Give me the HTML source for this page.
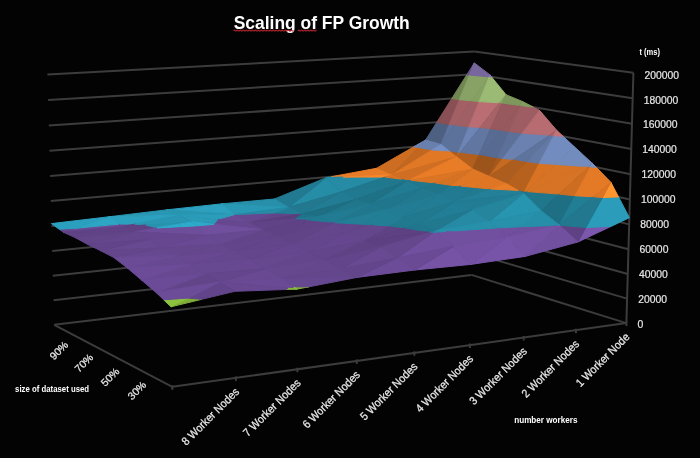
<!DOCTYPE html>
<html><head><meta charset="utf-8"><style>html,body{margin:0;padding:0;background:#030303;}svg{display:block;filter:blur(0.35px)}</style></head>
<body><svg width="700" height="458" viewBox="0 0 700 458">
<rect width="700" height="458" fill="#030303"/>
<g stroke="#3c3c3c" stroke-width="2" fill="none"><line x1="54.2" y1="324.8" x2="471.5" y2="274.9"/><line x1="471.5" y1="274.9" x2="626.4" y2="323.1"/><line x1="53.5" y1="300.3" x2="471.8" y2="253.0"/><line x1="471.8" y1="253.0" x2="627.1" y2="298.6"/><line x1="52.8" y1="275.7" x2="472.1" y2="231.0"/><line x1="472.1" y1="231.0" x2="627.8" y2="274.0"/><line x1="52.2" y1="251.0" x2="472.4" y2="208.9"/><line x1="472.4" y1="208.9" x2="628.5" y2="249.2"/><line x1="51.5" y1="226.1" x2="472.7" y2="186.7"/><line x1="472.7" y1="186.7" x2="629.2" y2="224.4"/><line x1="50.8" y1="201.1" x2="473.0" y2="164.4"/><line x1="473.0" y1="164.4" x2="629.9" y2="199.4"/><line x1="50.1" y1="176.1" x2="473.2" y2="142.0"/><line x1="473.2" y1="142.0" x2="630.6" y2="174.3"/><line x1="49.5" y1="150.8" x2="473.5" y2="119.6"/><line x1="473.5" y1="119.6" x2="631.3" y2="149.1"/><line x1="48.8" y1="125.5" x2="473.8" y2="97.0"/><line x1="473.8" y1="97.0" x2="632.0" y2="123.8"/><line x1="48.1" y1="100.1" x2="474.1" y2="74.3"/><line x1="474.1" y1="74.3" x2="632.7" y2="98.3"/><line x1="47.4" y1="74.5" x2="474.4" y2="51.6"/><line x1="474.4" y1="51.6" x2="633.4" y2="72.7"/><line x1="626.4" y1="323.1" x2="633.4" y2="72.7"/><line x1="54.2" y1="324.8" x2="172.3" y2="386.8"/><line x1="172.3" y1="386.8" x2="626.4" y2="323.1"/><line x1="172.3" y1="385.3" x2="172.3" y2="389.8"/><line x1="235.9" y1="376.4" x2="235.9" y2="380.9"/><line x1="297.4" y1="367.7" x2="297.4" y2="372.2"/><line x1="356.8" y1="359.4" x2="356.8" y2="363.9"/><line x1="414.3" y1="351.3" x2="414.3" y2="355.8"/><line x1="469.9" y1="343.5" x2="469.9" y2="348.0"/><line x1="523.7" y1="336.0" x2="523.7" y2="340.5"/><line x1="575.9" y1="328.7" x2="575.9" y2="333.2"/><line x1="626.4" y1="321.6" x2="626.4" y2="326.1"/></g>
<polygon points="441.0,144.5 449.1,124.5 436.8,122.3 425.6,140.0" fill="#4e6082" stroke="#4e6082" stroke-width="1.0" stroke-linejoin="round"/><polygon points="449.1,124.5 459.3,99.7 451.8,98.5 436.8,122.3" fill="#885054" stroke="#885054" stroke-width="1.0" stroke-linejoin="round"/><polygon points="459.3,99.7 469.3,75.1 466.8,74.8 451.8,98.5" fill="#718753" stroke="#718753" stroke-width="1.0" stroke-linejoin="round"/><polygon points="469.3,75.1 474.3,62.9 466.8,74.8" fill="#655784" stroke="#655784" stroke-width="1.0" stroke-linejoin="round"/><polygon points="441.0,144.5 454.6,125.1 449.1,124.5" fill="#5e739d" stroke="#5e739d" stroke-width="1.0" stroke-linejoin="round"/><polygon points="454.6,125.1 471.7,100.9 459.3,99.7 449.1,124.5" fill="#a26065" stroke="#a26065" stroke-width="1.0" stroke-linejoin="round"/><polygon points="471.7,100.9 488.7,76.8 469.3,75.1 459.3,99.7" fill="#87a264" stroke="#87a264" stroke-width="1.0" stroke-linejoin="round"/><polygon points="488.7,76.8 490.0,74.9 474.3,62.9 469.3,75.1" fill="#78679d" stroke="#78679d" stroke-width="1.0" stroke-linejoin="round"/><polygon points="391.4,175.0 418.3,147.4 413.7,146.8 376.5,168.3" fill="#cc6d22" stroke="#cc6d22" stroke-width="1.0" stroke-linejoin="round"/><polygon points="418.3,147.4 425.6,140.0 413.7,146.8" fill="#6e86b6" stroke="#6e86b6" stroke-width="1.0" stroke-linejoin="round"/><polygon points="391.4,175.0 432.1,149.9 418.3,147.4" fill="#c26720" stroke="#c26720" stroke-width="1.0" stroke-linejoin="round"/><polygon points="432.1,149.9 441.0,144.5 425.6,140.0 418.3,147.4" fill="#6980ae" stroke="#6980ae" stroke-width="1.0" stroke-linejoin="round"/><polygon points="456.6,156.8 458.5,152.2 449.2,151.0" fill="#aa5b1c" stroke="#aa5b1c" stroke-width="1.0" stroke-linejoin="round"/><polygon points="458.5,152.2 468.9,126.8 454.6,125.1 441.0,144.5 449.2,151.0" fill="#5d729b" stroke="#5d729b" stroke-width="1.0" stroke-linejoin="round"/><polygon points="468.9,126.8 479.1,101.6 471.7,100.9 454.6,125.1" fill="#a05f64" stroke="#a05f64" stroke-width="1.0" stroke-linejoin="round"/><polygon points="479.1,101.6 489.2,76.8 488.7,76.8 471.7,100.9" fill="#85a062" stroke="#85a062" stroke-width="1.0" stroke-linejoin="round"/><polygon points="489.2,76.8 490.0,74.9 488.7,76.8" fill="#76669b" stroke="#76669b" stroke-width="1.0" stroke-linejoin="round"/><polygon points="456.6,156.8 460.2,152.3 458.5,152.2" fill="#cb6d22" stroke="#cb6d22" stroke-width="1.0" stroke-linejoin="round"/><polygon points="460.2,152.3 479.9,127.5 468.9,126.8 458.5,152.2" fill="#6d85b5" stroke="#6d85b5" stroke-width="1.0" stroke-linejoin="round"/><polygon points="479.9,127.5 499.5,102.8 479.1,101.6 468.9,126.8" fill="#ba6e74" stroke="#ba6e74" stroke-width="1.0" stroke-linejoin="round"/><polygon points="499.5,102.8 506.0,94.7 491.6,77.0 489.2,76.8 479.1,101.6" fill="#9bba73" stroke="#9bba73" stroke-width="1.0" stroke-linejoin="round"/><polygon points="491.6,77.0 490.0,74.9 489.2,76.8" fill="#8976b4" stroke="#8976b4" stroke-width="1.0" stroke-linejoin="round"/><polygon points="456.6,156.8 449.2,151.0 432.1,149.9 391.4,175.0" fill="#e17825" stroke="#e17825" stroke-width="1.0" stroke-linejoin="round"/><polygon points="449.2,151.0 441.0,144.5 432.1,149.9" fill="#7791c6" stroke="#7791c6" stroke-width="1.0" stroke-linejoin="round"/><polygon points="331.5,176.7 326.1,177.7 343.2,177.0" fill="#237f97" stroke="#237f97" stroke-width="1.0" stroke-linejoin="round"/><polygon points="391.4,175.0 376.5,168.3 331.5,176.7 343.2,177.0" fill="#e77b27" stroke="#e77b27" stroke-width="1.0" stroke-linejoin="round"/><polygon points="472.7,169.0 479.1,154.6 460.2,152.3 456.6,156.8" fill="#b25f1e" stroke="#b25f1e" stroke-width="1.0" stroke-linejoin="round"/><polygon points="479.1,154.6 490.7,128.7 479.9,127.5 460.2,152.3" fill="#6176a1" stroke="#6176a1" stroke-width="1.0" stroke-linejoin="round"/><polygon points="490.7,128.7 502.2,103.1 499.5,102.8 479.9,127.5" fill="#a66267" stroke="#a66267" stroke-width="1.0" stroke-linejoin="round"/><polygon points="502.2,103.1 506.0,94.7 499.5,102.8" fill="#8aa666" stroke="#8aa666" stroke-width="1.0" stroke-linejoin="round"/><polygon points="472.7,169.0 482.8,155.2 479.1,154.6" fill="#9f551a" stroke="#9f551a" stroke-width="1.0" stroke-linejoin="round"/><polygon points="482.8,155.2 501.3,130.3 490.7,128.7 479.1,154.6" fill="#586b92" stroke="#586b92" stroke-width="1.0" stroke-linejoin="round"/><polygon points="501.3,130.3 519.6,105.4 502.2,103.1 490.7,128.7" fill="#97595e" stroke="#97595e" stroke-width="1.0" stroke-linejoin="round"/><polygon points="519.6,105.4 522.5,101.5 506.0,94.7 502.2,103.1" fill="#7e975d" stroke="#7e975d" stroke-width="1.0" stroke-linejoin="round"/><polygon points="406.7,181.1 408.6,180.2 401.6,179.1" fill="#1f7186" stroke="#1f7186" stroke-width="1.0" stroke-linejoin="round"/><polygon points="408.6,180.2 456.6,156.8 391.4,175.0 401.6,179.1" fill="#d06f23" stroke="#d06f23" stroke-width="1.0" stroke-linejoin="round"/><polygon points="340.6,192.1 385.2,177.1 343.2,177.0 326.1,177.7" fill="#268ba5" stroke="#268ba5" stroke-width="1.0" stroke-linejoin="round"/><polygon points="385.2,177.1 391.4,175.0 343.2,177.0" fill="#fa862a" stroke="#fa862a" stroke-width="1.0" stroke-linejoin="round"/><polygon points="408.6,180.2 406.7,181.1 411.0,180.3" fill="#238199" stroke="#238199" stroke-width="1.0" stroke-linejoin="round"/><polygon points="472.7,169.0 456.6,156.8 408.6,180.2 411.0,180.3" fill="#e97c27" stroke="#e97c27" stroke-width="1.0" stroke-linejoin="round"/><polygon points="406.7,181.1 401.6,179.1 385.2,177.1 340.6,192.1" fill="#20788e" stroke="#20788e" stroke-width="1.0" stroke-linejoin="round"/><polygon points="401.6,179.1 391.4,175.0 385.2,177.1" fill="#da7424" stroke="#da7424" stroke-width="1.0" stroke-linejoin="round"/><polygon points="489.2,176.3 497.5,157.8 482.8,155.2 472.7,169.0" fill="#9d541a" stroke="#9d541a" stroke-width="1.0" stroke-linejoin="round"/><polygon points="497.5,157.8 509.2,131.5 501.3,130.3 482.8,155.2" fill="#576a91" stroke="#576a91" stroke-width="1.0" stroke-linejoin="round"/><polygon points="509.2,131.5 520.7,105.6 519.6,105.4 501.3,130.3" fill="#96595d" stroke="#96595d" stroke-width="1.0" stroke-linejoin="round"/><polygon points="520.7,105.6 522.5,101.5 519.6,105.4" fill="#7d965c" stroke="#7d965c" stroke-width="1.0" stroke-linejoin="round"/><polygon points="288.4,207.4 340.6,192.1 326.1,177.7" fill="#268da7" stroke="#268da7" stroke-width="1.0" stroke-linejoin="round"/><polygon points="288.4,207.4 326.1,177.7 274.4,199.0" fill="#217a91" stroke="#217a91" stroke-width="1.0" stroke-linejoin="round"/><polygon points="489.2,176.3 502.7,158.5 497.5,157.8" fill="#a7591c" stroke="#a7591c" stroke-width="1.0" stroke-linejoin="round"/><polygon points="502.7,158.5 522.1,133.2 509.2,131.5 497.5,157.8" fill="#5c7099" stroke="#5c7099" stroke-width="1.0" stroke-linejoin="round"/><polygon points="522.1,133.2 539.5,110.3 533.1,107.0 520.7,105.6 509.2,131.5" fill="#9e5d62" stroke="#9e5d62" stroke-width="1.0" stroke-linejoin="round"/><polygon points="533.1,107.0 522.5,101.5 520.7,105.6" fill="#839e61" stroke="#839e61" stroke-width="1.0" stroke-linejoin="round"/><polygon points="422.3,188.0 435.4,183.0 411.0,180.3 406.7,181.1" fill="#21788e" stroke="#21788e" stroke-width="1.0" stroke-linejoin="round"/><polygon points="435.4,183.0 472.7,169.0 411.0,180.3" fill="#db7524" stroke="#db7524" stroke-width="1.0" stroke-linejoin="round"/><polygon points="355.4,199.5 406.7,181.1 340.6,192.1" fill="#217990" stroke="#217990" stroke-width="1.0" stroke-linejoin="round"/><polygon points="502.7,158.5 489.2,176.3 513.9,159.4" fill="#c66a21" stroke="#c66a21" stroke-width="1.0" stroke-linejoin="round"/><polygon points="522.1,133.2 502.7,158.5 513.9,159.4 549.5,135.2" fill="#6b82b1" stroke="#6b82b1" stroke-width="1.0" stroke-linejoin="round"/><polygon points="556.7,130.3 539.5,110.3 522.1,133.2 549.5,135.2" fill="#b66c71" stroke="#b66c71" stroke-width="1.0" stroke-linejoin="round"/><polygon points="288.4,207.4 274.4,199.0 221.1,203.9" fill="#278faa" stroke="#278faa" stroke-width="1.0" stroke-linejoin="round"/><polygon points="438.4,194.0 461.0,186.1 450.4,185.2" fill="#217b92" stroke="#217b92" stroke-width="1.0" stroke-linejoin="round"/><polygon points="461.0,186.1 489.2,176.3 472.7,169.0 450.4,185.2" fill="#e07725" stroke="#e07725" stroke-width="1.0" stroke-linejoin="round"/><polygon points="438.4,194.0 450.4,185.2 435.4,183.0 422.3,188.0" fill="#20758b" stroke="#20758b" stroke-width="1.0" stroke-linejoin="round"/><polygon points="450.4,185.2 472.7,169.0 435.4,183.0" fill="#d67224" stroke="#d67224" stroke-width="1.0" stroke-linejoin="round"/><polygon points="370.6,203.9 422.3,188.0 406.7,181.1" fill="#217b92" stroke="#217b92" stroke-width="1.0" stroke-linejoin="round"/><polygon points="370.6,203.9 406.7,181.1 355.4,199.5" fill="#1f7186" stroke="#1f7186" stroke-width="1.0" stroke-linejoin="round"/><polygon points="302.7,213.8 355.4,199.5 340.6,192.1" fill="#227d94" stroke="#227d94" stroke-width="1.0" stroke-linejoin="round"/><polygon points="302.7,213.8 340.6,192.1 288.4,207.4" fill="#21788f" stroke="#21788f" stroke-width="1.0" stroke-linejoin="round"/><polygon points="506.1,183.5 527.0,161.6 513.9,159.4 489.2,176.3" fill="#ad5d1d" stroke="#ad5d1d" stroke-width="1.0" stroke-linejoin="round"/><polygon points="527.0,161.6 551.7,135.5 549.5,135.2 513.9,159.4" fill="#5f749d" stroke="#5f749d" stroke-width="1.0" stroke-linejoin="round"/><polygon points="551.7,135.5 556.7,130.3 549.5,135.2" fill="#a36065" stroke="#a36065" stroke-width="1.0" stroke-linejoin="round"/><polygon points="234.6,214.6 234.8,214.6 234.6,214.6" fill="#6c4c97" stroke="#6c4c97" stroke-width="1.0" stroke-linejoin="round"/><polygon points="234.8,214.6 288.4,207.4 221.1,203.9 234.6,214.6" fill="#2998b4" stroke="#2998b4" stroke-width="1.0" stroke-linejoin="round"/><polygon points="454.9,201.7 490.7,189.0 474.3,187.4" fill="#217a90" stroke="#217a90" stroke-width="1.0" stroke-linejoin="round"/><polygon points="490.7,189.0 506.1,183.5 489.2,176.3 474.3,187.4" fill="#de7625" stroke="#de7625" stroke-width="1.0" stroke-linejoin="round"/><polygon points="454.9,201.7 474.3,187.4 461.0,186.1 438.4,194.0" fill="#217a91" stroke="#217a91" stroke-width="1.0" stroke-linejoin="round"/><polygon points="474.3,187.4 489.2,176.3 461.0,186.1" fill="#df7725" stroke="#df7725" stroke-width="1.0" stroke-linejoin="round"/><polygon points="234.6,214.6 234.6,214.6 234.6,214.6" fill="#6c4c98" stroke="#6c4c98" stroke-width="1.0" stroke-linejoin="round"/><polygon points="234.6,214.6 221.1,203.9 166.2,209.9 234.6,214.6" fill="#2ca0be" stroke="#2ca0be" stroke-width="1.0" stroke-linejoin="round"/><polygon points="523.5,193.3 524.5,191.3 518.3,190.4" fill="#1a6174" stroke="#1a6174" stroke-width="1.0" stroke-linejoin="round"/><polygon points="524.5,191.3 539.3,163.3 527.0,161.6 506.1,183.5 518.3,190.4" fill="#b6611e" stroke="#b6611e" stroke-width="1.0" stroke-linejoin="round"/><polygon points="539.3,163.3 553.8,135.7 551.7,135.5 527.0,161.6" fill="#6379a4" stroke="#6379a4" stroke-width="1.0" stroke-linejoin="round"/><polygon points="553.8,135.7 556.7,130.3 551.7,135.5" fill="#aa6469" stroke="#aa6469" stroke-width="1.0" stroke-linejoin="round"/><polygon points="386.3,209.5 438.4,194.0 422.3,188.0" fill="#21788f" stroke="#21788f" stroke-width="1.0" stroke-linejoin="round"/><polygon points="386.3,209.5 422.3,188.0 370.6,203.9" fill="#20768c" stroke="#20768c" stroke-width="1.0" stroke-linejoin="round"/><polygon points="523.5,193.3 525.6,191.4 524.5,191.3" fill="#20768c" stroke="#20768c" stroke-width="1.0" stroke-linejoin="round"/><polygon points="525.6,191.4 555.1,164.4 539.3,163.3 524.5,191.3" fill="#d87324" stroke="#d87324" stroke-width="1.0" stroke-linejoin="round"/><polygon points="555.1,164.4 574.3,146.7 563.1,136.3 553.8,135.7 539.3,163.3" fill="#738cbf" stroke="#738cbf" stroke-width="1.0" stroke-linejoin="round"/><polygon points="563.1,136.3 556.7,130.3 553.8,135.7" fill="#c4747a" stroke="#c4747a" stroke-width="1.0" stroke-linejoin="round"/><polygon points="317.5,216.6 370.6,203.9 355.4,199.5" fill="#20768b" stroke="#20768b" stroke-width="1.0" stroke-linejoin="round"/><polygon points="317.5,216.6 355.4,199.5 302.7,213.8" fill="#1e6f83" stroke="#1e6f83" stroke-width="1.0" stroke-linejoin="round"/><polygon points="248.5,222.8 302.2,213.9 274.3,212.9" fill="#624589" stroke="#624589" stroke-width="1.0" stroke-linejoin="round"/><polygon points="302.2,213.9 302.7,213.8 288.4,207.4 274.3,212.9" fill="#237f97" stroke="#237f97" stroke-width="1.0" stroke-linejoin="round"/><polygon points="248.5,222.8 274.3,212.9 234.8,214.6 234.6,214.6" fill="#664890" stroke="#664890" stroke-width="1.0" stroke-linejoin="round"/><polygon points="274.3,212.9 288.4,207.4 234.8,214.6" fill="#268ba5" stroke="#268ba5" stroke-width="1.0" stroke-linejoin="round"/><polygon points="523.5,193.3 518.3,190.4 490.7,189.0 454.9,201.7" fill="#238098" stroke="#238098" stroke-width="1.0" stroke-linejoin="round"/><polygon points="518.3,190.4 506.1,183.5 490.7,189.0" fill="#e87c27" stroke="#e87c27" stroke-width="1.0" stroke-linejoin="round"/><polygon points="525.6,191.4 523.5,193.3 527.6,191.6" fill="#20768c" stroke="#20768c" stroke-width="1.0" stroke-linejoin="round"/><polygon points="555.1,164.4 525.6,191.4 527.6,191.6 585.1,166.5" fill="#d77324" stroke="#d77324" stroke-width="1.0" stroke-linejoin="round"/><polygon points="592.4,163.4 574.3,146.7 555.1,164.4 585.1,166.5" fill="#738cbe" stroke="#738cbe" stroke-width="1.0" stroke-linejoin="round"/><polygon points="234.6,214.6 234.6,214.6 234.6,214.6" fill="#63468b" stroke="#63468b" stroke-width="1.0" stroke-linejoin="round"/><polygon points="179.2,215.2 234.6,214.6 234.6,214.6 166.2,209.9" fill="#2996b1" stroke="#2996b1" stroke-width="1.0" stroke-linejoin="round"/><polygon points="302.2,213.9 248.5,222.8 295.8,218.6" fill="#593f7d" stroke="#593f7d" stroke-width="1.0" stroke-linejoin="round"/><polygon points="317.5,216.6 302.7,213.8 302.2,213.9 295.8,218.6" fill="#1f7388" stroke="#1f7388" stroke-width="1.0" stroke-linejoin="round"/><polygon points="248.5,222.8 234.6,214.6 234.6,214.6 217.7,219.4" fill="#694a94" stroke="#694a94" stroke-width="1.0" stroke-linejoin="round"/><polygon points="234.6,214.6 179.2,215.2 217.7,219.4" fill="#2b9dba" stroke="#2b9dba" stroke-width="1.0" stroke-linejoin="round"/><polygon points="402.3,217.4 454.9,201.7 438.4,194.0" fill="#227d94" stroke="#227d94" stroke-width="1.0" stroke-linejoin="round"/><polygon points="402.3,217.4 438.4,194.0 386.3,209.5" fill="#227c93" stroke="#227c93" stroke-width="1.0" stroke-linejoin="round"/><polygon points="332.6,223.3 334.9,222.7 334.0,222.5" fill="#5d4283" stroke="#5d4283" stroke-width="1.0" stroke-linejoin="round"/><polygon points="334.9,222.7 386.3,209.5 370.6,203.9 334.0,222.5" fill="#21788e" stroke="#21788e" stroke-width="1.0" stroke-linejoin="round"/><polygon points="332.6,223.3 334.0,222.5 330.0,222.1" fill="#604386" stroke="#604386" stroke-width="1.0" stroke-linejoin="round"/><polygon points="334.0,222.5 370.6,203.9 317.5,216.6 330.0,222.1" fill="#217b92" stroke="#217b92" stroke-width="1.0" stroke-linejoin="round"/><polygon points="179.2,215.2 166.2,209.9 109.7,216.7" fill="#2997b3" stroke="#2997b3" stroke-width="1.0" stroke-linejoin="round"/><polygon points="541.1,210.7 559.1,194.1 527.6,191.6 523.5,193.3" fill="#20768b" stroke="#20768b" stroke-width="1.0" stroke-linejoin="round"/><polygon points="559.1,194.1 588.7,166.8 585.1,166.5 527.6,191.6" fill="#d77324" stroke="#d77324" stroke-width="1.0" stroke-linejoin="round"/><polygon points="588.7,166.8 592.4,163.4 585.1,166.5" fill="#738cbe" stroke="#738cbe" stroke-width="1.0" stroke-linejoin="round"/><polygon points="471.9,209.8 523.5,193.3 454.9,201.7" fill="#227c93" stroke="#227c93" stroke-width="1.0" stroke-linejoin="round"/><polygon points="262.8,229.7 305.3,219.5 295.8,218.6 248.5,222.8" fill="#604387" stroke="#604387" stroke-width="1.0" stroke-linejoin="round"/><polygon points="305.3,219.5 317.5,216.6 295.8,218.6" fill="#217b92" stroke="#217b92" stroke-width="1.0" stroke-linejoin="round"/><polygon points="215.6,222.3 248.5,222.8 217.7,219.4" fill="#664890" stroke="#664890" stroke-width="1.0" stroke-linejoin="round"/><polygon points="192.5,221.9 215.6,222.3 217.7,219.4 179.2,215.2" fill="#2a9bb8" stroke="#2a9bb8" stroke-width="1.0" stroke-linejoin="round"/><polygon points="122.2,226.6 134.8,224.1 119.0,224.1" fill="#674891" stroke="#674891" stroke-width="1.0" stroke-linejoin="round"/><polygon points="134.8,224.1 179.2,215.2 109.7,216.7 119.0,224.1" fill="#2ca1bf" stroke="#2ca1bf" stroke-width="1.0" stroke-linejoin="round"/><polygon points="559.3,225.0 575.0,195.8 559.1,194.1 541.1,210.7" fill="#1e6f84" stroke="#1e6f84" stroke-width="1.0" stroke-linejoin="round"/><polygon points="575.0,195.8 590.5,166.9 588.7,166.8 559.1,194.1" fill="#cc6d22" stroke="#cc6d22" stroke-width="1.0" stroke-linejoin="round"/><polygon points="590.5,166.9 592.4,163.4 588.7,166.8" fill="#6d86b6" stroke="#6d86b6" stroke-width="1.0" stroke-linejoin="round"/><polygon points="559.3,225.0 593.3,196.8 575.0,195.8" fill="#227e95" stroke="#227e95" stroke-width="1.0" stroke-linejoin="round"/><polygon points="593.3,196.8 610.9,182.3 596.2,167.2 590.5,166.9 575.0,195.8" fill="#e47a26" stroke="#e47a26" stroke-width="1.0" stroke-linejoin="round"/><polygon points="596.2,167.2 592.4,163.4 590.5,166.9" fill="#7993c8" stroke="#7993c8" stroke-width="1.0" stroke-linejoin="round"/><polygon points="489.3,221.5 541.1,210.7 523.5,193.3" fill="#2895b0" stroke="#2895b0" stroke-width="1.0" stroke-linejoin="round"/><polygon points="489.3,221.5 523.5,193.3 471.9,209.8" fill="#24859d" stroke="#24859d" stroke-width="1.0" stroke-linejoin="round"/><polygon points="262.8,229.7 248.5,222.8 215.6,222.3 213.8,224.3" fill="#674890" stroke="#674890" stroke-width="1.0" stroke-linejoin="round"/><polygon points="215.6,222.3 192.5,221.9 213.8,224.3" fill="#2a9ab7" stroke="#2a9ab7" stroke-width="1.0" stroke-linejoin="round"/><polygon points="418.8,224.2 471.9,209.8 454.9,201.7" fill="#227e96" stroke="#227e96" stroke-width="1.0" stroke-linejoin="round"/><polygon points="418.8,224.2 454.9,201.7 402.3,217.4" fill="#21798f" stroke="#21798f" stroke-width="1.0" stroke-linejoin="round"/><polygon points="348.2,231.8 373.6,225.0 361.2,224.2" fill="#624589" stroke="#624589" stroke-width="1.0" stroke-linejoin="round"/><polygon points="373.6,225.0 402.3,217.4 386.3,209.5 361.2,224.2" fill="#227e95" stroke="#227e95" stroke-width="1.0" stroke-linejoin="round"/><polygon points="348.2,231.8 361.2,224.2 334.9,222.7 332.6,223.3" fill="#63458b" stroke="#63458b" stroke-width="1.0" stroke-linejoin="round"/><polygon points="361.2,224.2 386.3,209.5 334.9,222.7" fill="#227f96" stroke="#227f96" stroke-width="1.0" stroke-linejoin="round"/><polygon points="134.8,224.1 122.2,226.6 145.9,225.0" fill="#614488" stroke="#614488" stroke-width="1.0" stroke-linejoin="round"/><polygon points="192.5,221.9 179.2,215.2 134.8,224.1 145.9,225.0" fill="#2997b3" stroke="#2997b3" stroke-width="1.0" stroke-linejoin="round"/><polygon points="277.4,236.2 332.6,223.3 330.0,222.1 310.2,220.1" fill="#604387" stroke="#604387" stroke-width="1.0" stroke-linejoin="round"/><polygon points="330.0,222.1 317.5,216.6 310.2,220.1" fill="#217b92" stroke="#217b92" stroke-width="1.0" stroke-linejoin="round"/><polygon points="277.4,236.2 310.2,220.1 305.3,219.5 262.8,229.7" fill="#5f4285" stroke="#5f4285" stroke-width="1.0" stroke-linejoin="round"/><polygon points="310.2,220.1 317.5,216.6 305.3,219.5" fill="#217a90" stroke="#217a90" stroke-width="1.0" stroke-linejoin="round"/><polygon points="63.3,232.2 122.2,226.6 119.0,224.1 74.9,228.3" fill="#6a4b95" stroke="#6a4b95" stroke-width="1.0" stroke-linejoin="round"/><polygon points="119.0,224.1 109.7,216.7 74.9,228.3" fill="#2da6c5" stroke="#2da6c5" stroke-width="1.0" stroke-linejoin="round"/><polygon points="63.3,232.2 74.9,228.3 59.2,229.2" fill="#674890" stroke="#674890" stroke-width="1.0" stroke-linejoin="round"/><polygon points="74.9,228.3 109.7,216.7 51.4,223.6 59.2,229.2" fill="#2ba0be" stroke="#2ba0be" stroke-width="1.0" stroke-linejoin="round"/><polygon points="206.3,235.3 262.8,229.7 213.8,224.3 196.7,225.9" fill="#704f9e" stroke="#704f9e" stroke-width="1.0" stroke-linejoin="round"/><polygon points="213.8,224.3 192.5,221.9 196.7,225.9" fill="#2eaac9" stroke="#2eaac9" stroke-width="1.0" stroke-linejoin="round"/><polygon points="577.9,242.0 611.0,226.4 585.9,227.5" fill="#7b57ad" stroke="#7b57ad" stroke-width="1.0" stroke-linejoin="round"/><polygon points="611.0,226.4 629.4,217.7 618.5,196.9 602.5,197.5 585.9,227.5" fill="#2b9dbb" stroke="#2b9dbb" stroke-width="1.0" stroke-linejoin="round"/><polygon points="618.5,196.9 610.9,182.3 602.5,197.5" fill="#ff952f" stroke="#ff952f" stroke-width="1.0" stroke-linejoin="round"/><polygon points="577.9,242.0 585.9,227.5 559.7,225.3" fill="#5e4283" stroke="#5e4283" stroke-width="1.0" stroke-linejoin="round"/><polygon points="585.9,227.5 602.5,197.5 593.3,196.8 559.3,225.0 559.7,225.3" fill="#21788f" stroke="#21788f" stroke-width="1.0" stroke-linejoin="round"/><polygon points="602.5,197.5 610.9,182.3 593.3,196.8" fill="#db7525" stroke="#db7525" stroke-width="1.0" stroke-linejoin="round"/><polygon points="134.9,231.7 157.0,227.9 145.9,225.0 122.2,226.6" fill="#5e4283" stroke="#5e4283" stroke-width="1.0" stroke-linejoin="round"/><polygon points="157.0,227.9 192.5,221.9 145.9,225.0" fill="#2893ae" stroke="#2893ae" stroke-width="1.0" stroke-linejoin="round"/><polygon points="507.0,237.0 557.5,225.4 520.3,226.8" fill="#6f4e9c" stroke="#6f4e9c" stroke-width="1.0" stroke-linejoin="round"/><polygon points="557.5,225.4 559.3,225.0 541.1,210.7 520.3,226.8" fill="#268ea8" stroke="#268ea8" stroke-width="1.0" stroke-linejoin="round"/><polygon points="507.0,237.0 520.3,226.8 496.7,228.0" fill="#714f9e" stroke="#714f9e" stroke-width="1.0" stroke-linejoin="round"/><polygon points="520.3,226.8 541.1,210.7 489.3,221.5 496.7,228.0" fill="#2790ab" stroke="#2790ab" stroke-width="1.0" stroke-linejoin="round"/><polygon points="435.8,230.6 489.3,221.5 471.9,209.8" fill="#268aa4" stroke="#268aa4" stroke-width="1.0" stroke-linejoin="round"/><polygon points="435.8,230.6 471.9,209.8 418.8,224.2" fill="#21798f" stroke="#21798f" stroke-width="1.0" stroke-linejoin="round"/><polygon points="364.2,240.9 405.9,228.1 388.7,225.8" fill="#5e4284" stroke="#5e4284" stroke-width="1.0" stroke-linejoin="round"/><polygon points="405.9,228.1 418.8,224.2 402.3,217.4 388.7,225.8" fill="#21798f" stroke="#21798f" stroke-width="1.0" stroke-linejoin="round"/><polygon points="364.2,240.9 388.7,225.8 373.6,225.0 348.2,231.8" fill="#63468c" stroke="#63468c" stroke-width="1.0" stroke-linejoin="round"/><polygon points="388.7,225.8 402.3,217.4 373.6,225.0" fill="#237f97" stroke="#237f97" stroke-width="1.0" stroke-linejoin="round"/><polygon points="206.3,235.3 196.7,225.9 157.0,227.9 134.9,231.7" fill="#6e4d9b" stroke="#6e4d9b" stroke-width="1.0" stroke-linejoin="round"/><polygon points="196.7,225.9 192.5,221.9 157.0,227.9" fill="#2eabcb" stroke="#2eabcb" stroke-width="1.0" stroke-linejoin="round"/><polygon points="292.4,243.5 348.2,231.8 332.6,223.3" fill="#64468d" stroke="#64468d" stroke-width="1.0" stroke-linejoin="round"/><polygon points="292.4,243.5 332.6,223.3 277.4,236.2" fill="#604487" stroke="#604487" stroke-width="1.0" stroke-linejoin="round"/><polygon points="134.9,231.7 122.2,226.6 63.3,232.2" fill="#604386" stroke="#604386" stroke-width="1.0" stroke-linejoin="round"/><polygon points="220.4,244.2 277.4,236.2 262.8,229.7" fill="#624589" stroke="#624589" stroke-width="1.0" stroke-linejoin="round"/><polygon points="220.4,244.2 262.8,229.7 206.3,235.3" fill="#674991" stroke="#674991" stroke-width="1.0" stroke-linejoin="round"/><polygon points="507.0,237.0 496.7,228.0 445.8,231.5" fill="#7250a0" stroke="#7250a0" stroke-width="1.0" stroke-linejoin="round"/><polygon points="496.7,228.0 489.3,221.5 435.8,230.6 445.8,231.5" fill="#2791ac" stroke="#2791ac" stroke-width="1.0" stroke-linejoin="round"/><polygon points="405.9,228.1 364.2,240.9 428.1,231.7" fill="#5d4182" stroke="#5d4182" stroke-width="1.0" stroke-linejoin="round"/><polygon points="435.8,230.6 418.8,224.2 405.9,228.1 428.1,231.7" fill="#20778d" stroke="#20778d" stroke-width="1.0" stroke-linejoin="round"/><polygon points="525.2,256.4 577.9,242.0 559.7,225.3 558.9,225.3" fill="#71509f" stroke="#71509f" stroke-width="1.0" stroke-linejoin="round"/><polygon points="559.7,225.3 559.3,225.0 558.9,225.3" fill="#2791ac" stroke="#2791ac" stroke-width="1.0" stroke-linejoin="round"/><polygon points="148.0,239.4 206.3,235.3 134.9,231.7" fill="#66478f" stroke="#66478f" stroke-width="1.0" stroke-linejoin="round"/><polygon points="525.2,256.4 558.9,225.3 557.5,225.4 507.0,237.0" fill="#7552a4" stroke="#7552a4" stroke-width="1.0" stroke-linejoin="round"/><polygon points="558.9,225.3 559.3,225.0 557.5,225.4" fill="#2995b1" stroke="#2995b1" stroke-width="1.0" stroke-linejoin="round"/><polygon points="75.4,237.7 134.9,231.7 63.3,232.2" fill="#604387" stroke="#604387" stroke-width="1.0" stroke-linejoin="round"/><polygon points="307.9,252.0 364.2,240.9 348.2,231.8" fill="#66478f" stroke="#66478f" stroke-width="1.0" stroke-linejoin="round"/><polygon points="307.9,252.0 348.2,231.8 292.4,243.5" fill="#63468b" stroke="#63468b" stroke-width="1.0" stroke-linejoin="round"/><polygon points="234.9,251.6 292.4,243.5 277.4,236.2" fill="#63458b" stroke="#63458b" stroke-width="1.0" stroke-linejoin="round"/><polygon points="453.1,246.6 507.0,237.0 445.8,231.5 437.4,232.1" fill="#7250a0" stroke="#7250a0" stroke-width="1.0" stroke-linejoin="round"/><polygon points="445.8,231.5 435.8,230.6 437.4,232.1" fill="#2791ac" stroke="#2791ac" stroke-width="1.0" stroke-linejoin="round"/><polygon points="234.9,251.6 277.4,236.2 220.4,244.2" fill="#63458b" stroke="#63458b" stroke-width="1.0" stroke-linejoin="round"/><polygon points="161.5,247.8 220.4,244.2 206.3,235.3" fill="#694993" stroke="#694993" stroke-width="1.0" stroke-linejoin="round"/><polygon points="380.6,247.0 430.5,232.2 428.1,231.7 364.2,240.9" fill="#5c4081" stroke="#5c4081" stroke-width="1.0" stroke-linejoin="round"/><polygon points="430.5,232.2 435.8,230.6 428.1,231.7" fill="#20768c" stroke="#20768c" stroke-width="1.0" stroke-linejoin="round"/><polygon points="161.5,247.8 206.3,235.3 148.0,239.4" fill="#674890" stroke="#674890" stroke-width="1.0" stroke-linejoin="round"/><polygon points="87.8,244.5 148.0,239.4 134.9,231.7" fill="#65478e" stroke="#65478e" stroke-width="1.0" stroke-linejoin="round"/><polygon points="87.8,244.5 134.9,231.7 75.4,237.7" fill="#63458a" stroke="#63458a" stroke-width="1.0" stroke-linejoin="round"/><polygon points="470.9,264.4 525.2,256.4 507.0,237.0" fill="#7754a8" stroke="#7754a8" stroke-width="1.0" stroke-linejoin="round"/><polygon points="470.9,264.4 507.0,237.0 453.1,246.6" fill="#7451a3" stroke="#7451a3" stroke-width="1.0" stroke-linejoin="round"/><polygon points="397.5,257.8 453.1,246.6 437.4,232.1 433.4,232.3" fill="#714f9f" stroke="#714f9f" stroke-width="1.0" stroke-linejoin="round"/><polygon points="437.4,232.1 435.8,230.6 433.4,232.3" fill="#2791ac" stroke="#2791ac" stroke-width="1.0" stroke-linejoin="round"/><polygon points="397.5,257.8 433.4,232.3 430.5,232.2 380.6,247.0" fill="#65478d" stroke="#65478d" stroke-width="1.0" stroke-linejoin="round"/><polygon points="433.4,232.3 435.8,230.6 430.5,232.2" fill="#238199" stroke="#238199" stroke-width="1.0" stroke-linejoin="round"/><polygon points="323.8,260.2 380.6,247.0 364.2,240.9" fill="#5e4284" stroke="#5e4284" stroke-width="1.0" stroke-linejoin="round"/><polygon points="323.8,260.2 364.2,240.9 307.9,252.0" fill="#62458a" stroke="#62458a" stroke-width="1.0" stroke-linejoin="round"/><polygon points="249.7,259.5 307.9,252.0 292.4,243.5" fill="#66478f" stroke="#66478f" stroke-width="1.0" stroke-linejoin="round"/><polygon points="249.7,259.5 292.4,243.5 234.9,251.6" fill="#63468b" stroke="#63468b" stroke-width="1.0" stroke-linejoin="round"/><polygon points="175.4,255.7 234.9,251.6 220.4,244.2" fill="#65478d" stroke="#65478d" stroke-width="1.0" stroke-linejoin="round"/><polygon points="175.4,255.7 220.4,244.2 161.5,247.8" fill="#65478e" stroke="#65478e" stroke-width="1.0" stroke-linejoin="round"/><polygon points="100.6,250.7 161.5,247.8 148.0,239.4" fill="#674991" stroke="#674991" stroke-width="1.0" stroke-linejoin="round"/><polygon points="100.6,250.7 148.0,239.4 87.8,244.5" fill="#614489" stroke="#614489" stroke-width="1.0" stroke-linejoin="round"/><polygon points="414.9,270.0 470.9,264.4 453.1,246.6" fill="#7653a5" stroke="#7653a5" stroke-width="1.0" stroke-linejoin="round"/><polygon points="414.9,270.0 453.1,246.6 397.5,257.8" fill="#6a4a95" stroke="#6a4a95" stroke-width="1.0" stroke-linejoin="round"/><polygon points="340.1,269.0 397.5,257.8 380.6,247.0" fill="#684992" stroke="#684992" stroke-width="1.0" stroke-linejoin="round"/><polygon points="340.1,269.0 380.6,247.0 323.8,260.2" fill="#62458a" stroke="#62458a" stroke-width="1.0" stroke-linejoin="round"/><polygon points="265.1,268.6 323.8,260.2 307.9,252.0" fill="#64468c" stroke="#64468c" stroke-width="1.0" stroke-linejoin="round"/><polygon points="265.1,268.6 307.9,252.0 249.7,259.5" fill="#66488f" stroke="#66488f" stroke-width="1.0" stroke-linejoin="round"/><polygon points="189.6,264.6 249.7,259.5 234.9,251.6" fill="#65478e" stroke="#65478e" stroke-width="1.0" stroke-linejoin="round"/><polygon points="189.6,264.6 234.9,251.6 175.4,255.7" fill="#674891" stroke="#674891" stroke-width="1.0" stroke-linejoin="round"/><polygon points="113.8,257.5 175.4,255.7 161.5,247.8" fill="#664890" stroke="#664890" stroke-width="1.0" stroke-linejoin="round"/><polygon points="113.8,257.5 161.5,247.8 100.6,250.7" fill="#63468b" stroke="#63468b" stroke-width="1.0" stroke-linejoin="round"/><polygon points="357.0,277.4 414.9,270.0 397.5,257.8" fill="#6c4c98" stroke="#6c4c98" stroke-width="1.0" stroke-linejoin="round"/><polygon points="357.0,277.4 397.5,257.8 340.1,269.0" fill="#62458a" stroke="#62458a" stroke-width="1.0" stroke-linejoin="round"/><polygon points="280.8,278.3 340.1,269.0 323.8,260.2" fill="#65478d" stroke="#65478d" stroke-width="1.0" stroke-linejoin="round"/><polygon points="280.8,278.3 323.8,260.2 265.1,268.6" fill="#66488f" stroke="#66488f" stroke-width="1.0" stroke-linejoin="round"/><polygon points="204.4,274.1 265.1,268.6 249.7,259.5" fill="#674891" stroke="#674891" stroke-width="1.0" stroke-linejoin="round"/><polygon points="204.4,274.1 249.7,259.5 189.6,264.6" fill="#674991" stroke="#674991" stroke-width="1.0" stroke-linejoin="round"/><polygon points="127.5,268.1 189.6,264.6 175.4,255.7" fill="#674991" stroke="#674991" stroke-width="1.0" stroke-linejoin="round"/><polygon points="127.5,268.1 175.4,255.7 113.8,257.5" fill="#6b4b96" stroke="#6b4b96" stroke-width="1.0" stroke-linejoin="round"/><polygon points="357.0,277.4 340.1,269.0 280.8,278.3" fill="#63468b" stroke="#63468b" stroke-width="1.0" stroke-linejoin="round"/><polygon points="219.5,282.1 280.8,278.3 265.1,268.6" fill="#684992" stroke="#684992" stroke-width="1.0" stroke-linejoin="round"/><polygon points="219.5,282.1 265.1,268.6 204.4,274.1" fill="#64468c" stroke="#64468c" stroke-width="1.0" stroke-linejoin="round"/><polygon points="141.5,280.1 204.4,274.1 189.6,264.6" fill="#674891" stroke="#674891" stroke-width="1.0" stroke-linejoin="round"/><polygon points="141.5,280.1 189.6,264.6 127.5,268.1" fill="#6c4c98" stroke="#6c4c98" stroke-width="1.0" stroke-linejoin="round"/><polygon points="297.1,289.1 309.0,286.8 293.9,287.0" fill="#86b73b" stroke="#86b73b" stroke-width="1.0" stroke-linejoin="round"/><polygon points="309.0,286.8 357.0,277.4 280.8,278.3 293.9,287.0" fill="#664890" stroke="#664890" stroke-width="1.0" stroke-linejoin="round"/><polygon points="297.1,289.1 293.9,287.0 288.1,288.3" fill="#8abd3d" stroke="#8abd3d" stroke-width="1.0" stroke-linejoin="round"/><polygon points="293.9,287.0 280.8,278.3 219.5,282.1 288.1,288.3" fill="#6a4a94" stroke="#6a4a94" stroke-width="1.0" stroke-linejoin="round"/><polygon points="156.0,292.4 219.5,282.1 204.4,274.1" fill="#624589" stroke="#624589" stroke-width="1.0" stroke-linejoin="round"/><polygon points="156.0,292.4 204.4,274.1 141.5,280.1" fill="#6b4b97" stroke="#6b4b97" stroke-width="1.0" stroke-linejoin="round"/><polygon points="285.9,289.5 297.1,289.1 288.1,288.3" fill="#86b83c" stroke="#86b83c" stroke-width="1.0" stroke-linejoin="round"/><polygon points="235.1,291.3 285.9,289.5 288.1,288.3 219.5,282.1" fill="#674891" stroke="#674891" stroke-width="1.0" stroke-linejoin="round"/><polygon points="171.0,306.8 201.8,299.3 188.2,298.1" fill="#7fae38" stroke="#7fae38" stroke-width="1.0" stroke-linejoin="round"/><polygon points="201.8,299.3 235.1,291.3 219.5,282.1 188.2,298.1" fill="#614489" stroke="#614489" stroke-width="1.0" stroke-linejoin="round"/><polygon points="171.0,306.8 188.2,298.1 163.7,299.8" fill="#8dc23f" stroke="#8dc23f" stroke-width="1.0" stroke-linejoin="round"/><polygon points="188.2,298.1 219.5,282.1 156.0,292.4 163.7,299.8" fill="#6c4c98" stroke="#6c4c98" stroke-width="1.0" stroke-linejoin="round"/>
<text x="233.7" y="28.6" font-family="'Liberation Sans', sans-serif" font-weight="bold" font-size="19" fill="#fff" textLength="176" lengthAdjust="spacingAndGlyphs">Scaling of FP Growth</text><path d="M233.6,30.6 Q234.35,29.70 235.10,30.6 Q235.85,31.50 236.60,30.6 Q237.35,29.70 238.10,30.6 Q238.85,31.50 239.60,30.6 Q240.35,29.70 241.10,30.6 Q241.85,31.50 242.60,30.6 Q243.35,29.70 244.10,30.6 Q244.85,31.50 245.60,30.6 Q246.35,29.70 247.10,30.6 Q247.85,31.50 248.60,30.6 Q249.35,29.70 250.10,30.6 Q250.85,31.50 251.60,30.6 Q252.35,29.70 253.10,30.6 Q253.85,31.50 254.60,30.6 Q255.35,29.70 256.10,30.6 Q256.85,31.50 257.60,30.6 Q258.35,29.70 259.10,30.6 Q259.85,31.50 260.60,30.6 Q261.35,29.70 262.10,30.6 Q262.85,31.50 263.60,30.6 Q264.35,29.70 265.10,30.6 Q265.85,31.50 266.60,30.6 Q267.35,29.70 268.10,30.6 Q268.85,31.50 269.60,30.6 Q270.35,29.70 271.10,30.6 Q271.85,31.50 272.60,30.6 Q273.35,29.70 274.10,30.6 Q274.85,31.50 275.60,30.6 Q276.35,29.70 277.10,30.6 Q277.85,31.50 278.60,30.6 Q279.35,29.70 280.10,30.6 Q280.85,31.50 281.60,30.6 Q282.35,29.70 283.10,30.6 Q283.85,31.50 284.60,30.6 Q285.35,29.70 286.10,30.6 Q286.85,31.50 287.60,30.6 Q288.35,29.70 289.10,30.6 Q289.85,31.50 290.60,30.6 Q291.35,29.70 292.10,30.6 Q292.85,31.50 293.60,30.6 M297.9,30.6 Q298.65,29.70 299.40,30.6 Q300.15,31.50 300.90,30.6 Q301.65,29.70 302.40,30.6 Q303.15,31.50 303.90,30.6 Q304.65,29.70 305.40,30.6 Q306.15,31.50 306.90,30.6 Q307.65,29.70 308.40,30.6 Q309.15,31.50 309.90,30.6 Q310.65,29.70 311.40,30.6 Q312.15,31.50 312.90,30.6 Q313.65,29.70 314.40,30.6 Q315.15,31.50 315.90,30.6 Q316.15,29.70 316.40,30.6" stroke="#b3262c" stroke-width="1.1" fill="none"/><text x="639.5" y="55" font-family="'Liberation Sans', sans-serif" font-weight="bold" font-size="9" fill="#fff" textLength="20.5" lengthAdjust="spacingAndGlyphs">t (ms)</text><text x="637.5" y="327.6" font-family="'Liberation Sans', sans-serif" font-size="10" fill="#e6e6e6" stroke="#e6e6e6" stroke-width="0.2" textLength="5.8" lengthAdjust="spacingAndGlyphs">0</text><text x="638.2" y="302.7" font-family="'Liberation Sans', sans-serif" font-size="10" fill="#e6e6e6" stroke="#e6e6e6" stroke-width="0.2" textLength="28.8" lengthAdjust="spacingAndGlyphs">20000</text><text x="638.9" y="277.8" font-family="'Liberation Sans', sans-serif" font-size="10" fill="#e6e6e6" stroke="#e6e6e6" stroke-width="0.2" textLength="28.8" lengthAdjust="spacingAndGlyphs">40000</text><text x="639.6" y="252.9" font-family="'Liberation Sans', sans-serif" font-size="10" fill="#e6e6e6" stroke="#e6e6e6" stroke-width="0.2" textLength="28.8" lengthAdjust="spacingAndGlyphs">60000</text><text x="640.3" y="228.0" font-family="'Liberation Sans', sans-serif" font-size="10" fill="#e6e6e6" stroke="#e6e6e6" stroke-width="0.2" textLength="28.8" lengthAdjust="spacingAndGlyphs">80000</text><text x="641.0" y="203.1" font-family="'Liberation Sans', sans-serif" font-size="10" fill="#e6e6e6" stroke="#e6e6e6" stroke-width="0.2" textLength="34.5" lengthAdjust="spacingAndGlyphs">100000</text><text x="641.6" y="178.2" font-family="'Liberation Sans', sans-serif" font-size="10" fill="#e6e6e6" stroke="#e6e6e6" stroke-width="0.2" textLength="34.5" lengthAdjust="spacingAndGlyphs">120000</text><text x="642.3" y="153.3" font-family="'Liberation Sans', sans-serif" font-size="10" fill="#e6e6e6" stroke="#e6e6e6" stroke-width="0.2" textLength="34.5" lengthAdjust="spacingAndGlyphs">140000</text><text x="643.0" y="128.4" font-family="'Liberation Sans', sans-serif" font-size="10" fill="#e6e6e6" stroke="#e6e6e6" stroke-width="0.2" textLength="34.5" lengthAdjust="spacingAndGlyphs">160000</text><text x="643.7" y="103.5" font-family="'Liberation Sans', sans-serif" font-size="10" fill="#e6e6e6" stroke="#e6e6e6" stroke-width="0.2" textLength="34.5" lengthAdjust="spacingAndGlyphs">180000</text><text x="644.4" y="78.6" font-family="'Liberation Sans', sans-serif" font-size="10" fill="#e6e6e6" stroke="#e6e6e6" stroke-width="0.2" textLength="34.5" lengthAdjust="spacingAndGlyphs">200000</text><text x="15.1" y="391.5" font-family="'Liberation Sans', sans-serif" font-weight="bold" font-size="9.8" fill="#fff" textLength="74" lengthAdjust="spacingAndGlyphs">size of dataset used</text><text x="514.2" y="422.8" font-family="'Liberation Sans', sans-serif" font-weight="bold" font-size="9.5" fill="#fff" textLength="63.3" lengthAdjust="spacingAndGlyphs">number workers</text><text x="0" y="0" text-anchor="end" transform="translate(239.9,392.4) rotate(-45)" font-family="'Liberation Sans', sans-serif" font-size="11.5" fill="#e8e8e8" stroke="#e8e8e8" stroke-width="0.25" textLength="75.8" lengthAdjust="spacingAndGlyphs">8 Worker Nodes</text><text x="0" y="0" text-anchor="end" transform="translate(301.4,383.7) rotate(-45)" font-family="'Liberation Sans', sans-serif" font-size="11.5" fill="#e8e8e8" stroke="#e8e8e8" stroke-width="0.25" textLength="75.8" lengthAdjust="spacingAndGlyphs">7 Worker Nodes</text><text x="0" y="0" text-anchor="end" transform="translate(360.8,375.4) rotate(-45)" font-family="'Liberation Sans', sans-serif" font-size="11.5" fill="#e8e8e8" stroke="#e8e8e8" stroke-width="0.25" textLength="75.8" lengthAdjust="spacingAndGlyphs">6 Worker Nodes</text><text x="0" y="0" text-anchor="end" transform="translate(418.3,367.3) rotate(-45)" font-family="'Liberation Sans', sans-serif" font-size="11.5" fill="#e8e8e8" stroke="#e8e8e8" stroke-width="0.25" textLength="75.8" lengthAdjust="spacingAndGlyphs">5 Worker Nodes</text><text x="0" y="0" text-anchor="end" transform="translate(473.9,359.5) rotate(-45)" font-family="'Liberation Sans', sans-serif" font-size="11.5" fill="#e8e8e8" stroke="#e8e8e8" stroke-width="0.25" textLength="75.8" lengthAdjust="spacingAndGlyphs">4 Worker Nodes</text><text x="0" y="0" text-anchor="end" transform="translate(527.7,352.0) rotate(-45)" font-family="'Liberation Sans', sans-serif" font-size="11.5" fill="#e8e8e8" stroke="#e8e8e8" stroke-width="0.25" textLength="75.8" lengthAdjust="spacingAndGlyphs">3 Worker Nodes</text><text x="0" y="0" text-anchor="end" transform="translate(579.9,344.7) rotate(-45)" font-family="'Liberation Sans', sans-serif" font-size="11.5" fill="#e8e8e8" stroke="#e8e8e8" stroke-width="0.25" textLength="75.8" lengthAdjust="spacingAndGlyphs">2 Worker Nodes</text><text x="0" y="0" text-anchor="end" transform="translate(630.4,337.6) rotate(-45)" font-family="'Liberation Sans', sans-serif" font-size="11.5" fill="#e8e8e8" stroke="#e8e8e8" stroke-width="0.25" textLength="70.6" lengthAdjust="spacingAndGlyphs">1 Worker Node</text><text x="0" y="3.5" text-anchor="middle" transform="translate(59.0,350.6) rotate(-45)" font-family="'Liberation Sans', sans-serif" font-size="10.5" fill="#e6e6e6" stroke="#e6e6e6" stroke-width="0.25">90%</text><text x="0" y="3.5" text-anchor="middle" transform="translate(84.0,363.0) rotate(-45)" font-family="'Liberation Sans', sans-serif" font-size="10.5" fill="#e6e6e6" stroke="#e6e6e6" stroke-width="0.25">70%</text><text x="0" y="3.5" text-anchor="middle" transform="translate(110.3,377.0) rotate(-45)" font-family="'Liberation Sans', sans-serif" font-size="10.5" fill="#e6e6e6" stroke="#e6e6e6" stroke-width="0.25">50%</text><text x="0" y="3.5" text-anchor="middle" transform="translate(137.0,390.6) rotate(-45)" font-family="'Liberation Sans', sans-serif" font-size="10.5" fill="#e6e6e6" stroke="#e6e6e6" stroke-width="0.25">30%</text>
</svg></body></html>
